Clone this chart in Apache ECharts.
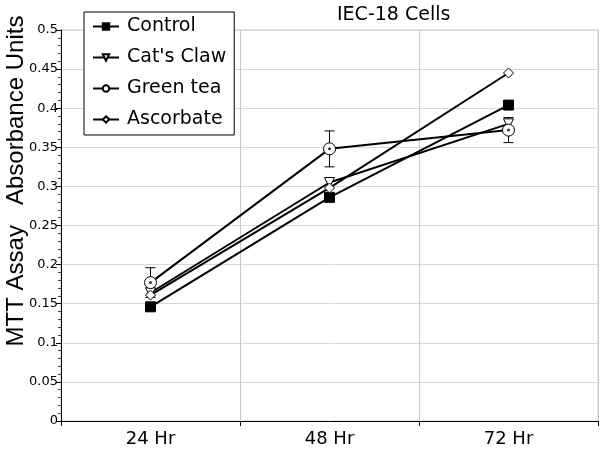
<!DOCTYPE html>
<html>
<head>
<meta charset="utf-8">
<script src="https://cdn.jsdelivr.net/npm/echarts@6/dist/echarts.min.js"></script>
<style>html,body{margin:0;padding:0;background:#fff}#c{width:600px;height:449px}</style>
</head>
<body>
<div id="c"></div>
<script>
// ---- data ----
var categories = ['24 Hr', '48 Hr', '72 Hr'];
var control    = [0.146, 0.286, 0.404];
var catsClaw   = [0.164, 0.305, 0.380];
var greenTea   = [0.177, 0.348, 0.372];
var greenTeaErr= [0.019, 0.023, 0.016];
var ascorbate  = [0.161, 0.298, 0.445];
var yTicks = { min: 0, max: 0.5, step: 0.05 };
var titleText = 'IEC-18 Cells';
var yName = 'MTT Assay   Absorbance Units';

var FONT = 'DejaVu Sans';
var chart = echarts.init(document.getElementById('c'), null, {renderer: 'canvas'});

function lineSeries(name, data, symbol, size, fill, rotate) {
  return {
    name: name, type: 'line', data: data,
    symbol: symbol, symbolSize: size, symbolRotate: rotate || 0,
    showSymbol: true,
    lineStyle: { color: '#000', width: 2 },
    itemStyle: { color: fill, borderColor: '#000', borderWidth: 1 },
    emphasis: { disabled: true },
    z: 3
  };
}

var errData = greenTea.map(function (v, i) { return [i, v - greenTeaErr[i], v + greenTeaErr[i]]; });

var option = {
  animation: false,
  textStyle: { fontFamily: FONT, color: '#000' },
  title: {
    text: titleText, left: 337, top: 6, padding: 0,
    textStyle: { fontFamily: FONT, fontSize: 19, fontWeight: 'normal', color: '#000' }
  },
  legend: {
    orient: 'vertical', left: 84, top: 12,
    data: ['Control', "Cat's Claw", 'Green tea', 'Ascorbate'],
    backgroundColor: '#fff', borderColor: '#000', borderWidth: 1,
    padding: [5, 8, 6, 8], itemWidth: 26, itemHeight: 8, itemGap: 12,
    textStyle: { fontFamily: FONT, fontSize: 19, color: '#000', padding: [0, 0, 0, 3] },
    z: 10
  },
  grid: { left: 61, right: 2, top: 30, bottom: 28, containLabel: false,
          show: true, borderColor: '#cfcfcf', borderWidth: 1 },
  xAxis: {
    type: 'category', data: categories, boundaryGap: true,
    axisLine: { lineStyle: { color: '#000', width: 1 } },
    axisTick: { show: true, length: 5, interval: 0, lineStyle: { color: '#000' } },
    splitLine: { show: true, interval: 0, lineStyle: { color: '#c8c8c8', width: 1, type: 'solid' } },
    axisLabel: { fontFamily: FONT, fontSize: 18, color: '#000', margin: 9 }
  },
  yAxis: {
    type: 'value', min: yTicks.min, max: yTicks.max, interval: yTicks.step,
    axisLine: { show: true, lineStyle: { color: '#000', width: 1 } },
    axisTick: { show: true, length: 5, lineStyle: { color: '#000' } },
    minorTick: { show: true, splitNumber: 5, length: 3, lineStyle: { color: '#444' } },
    splitLine: { show: true, lineStyle: { color: '#d8d8d8', width: 1 } },
    axisLabel: { fontFamily: FONT, fontSize: 13, color: '#000', margin: 3 }
  },
  graphic: [{
    type: 'text', x: 16, y: 181, rotation: Math.PI / 2,
    style: { text: yName, font: '24px "Liberation Sans", Arial, sans-serif', fill: '#000',
             textAlign: 'center', textVerticalAlign: 'middle' }
  }],
  series: [
    lineSeries('Control', control, 'rect', 10, '#000'),
    lineSeries("Cat's Claw", catsClaw, 'triangle', 10, '#fff', 180),
    {
      name: 'gtErr', type: 'custom', data: errData, z: 2,
      renderItem: function (params, api) {
        var x = api.value(0);
        var lo = api.coord([x, api.value(1)]);
        var hi = api.coord([x, api.value(2)]);
        var w = 5;
        var st = { stroke: '#000', lineWidth: 1 };
        return { type: 'group', children: [
          { type: 'line', shape: { x1: lo[0], y1: lo[1], x2: hi[0], y2: hi[1] }, style: st },
          { type: 'line', shape: { x1: lo[0] - w, y1: lo[1], x2: lo[0] + w, y2: lo[1] }, style: st },
          { type: 'line', shape: { x1: hi[0] - w, y1: hi[1], x2: hi[0] + w, y2: hi[1] }, style: st }
        ]};
      }
    },
    lineSeries('Green tea', greenTea, 'circle', 12, '#fff'),
    {
      name: 'gtDot', type: 'scatter', data: greenTea, symbol: 'circle', symbolSize: 3,
      itemStyle: { color: '#000' }, z: 5, emphasis: { disabled: true }
    },
    lineSeries('Ascorbate', ascorbate, 'diamond', 10, '#fff')
  ]
};
chart.setOption(option);
</script>
</body>
</html>
